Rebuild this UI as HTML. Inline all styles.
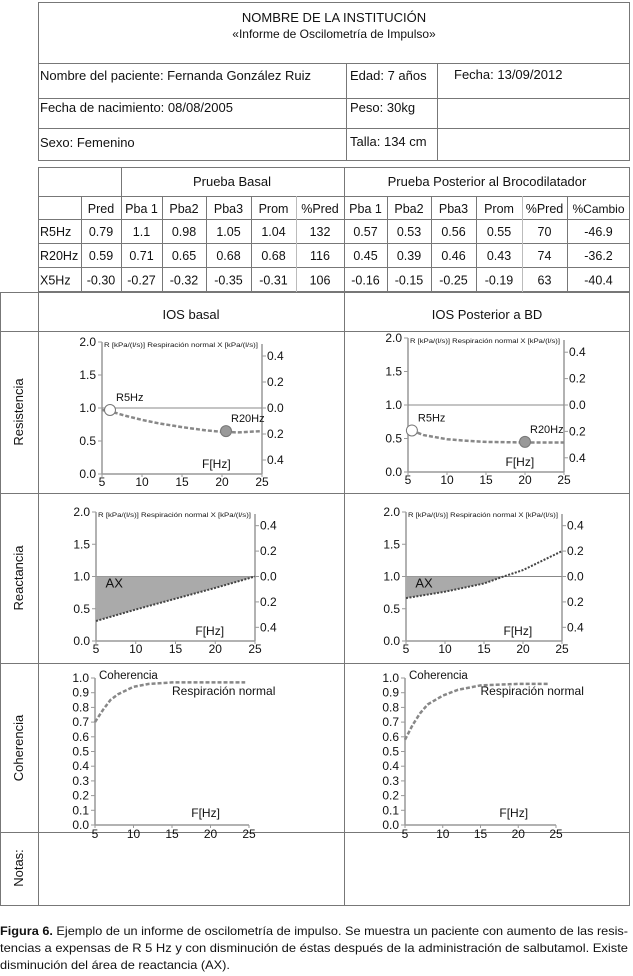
<!DOCTYPE html>
<html><head><meta charset="utf-8">
<style>
html,body{margin:0;padding:0;background:#fff;}
svg{display:block;font-family:"Liberation Sans",sans-serif;}
</style></head>
<body>
<svg id="page" width="633" height="976" viewBox="0 0 633 976" xmlns="http://www.w3.org/2000/svg">
<g stroke="#777" stroke-width="1" fill="none">
  <rect x="38.5" y="2.5" width="591" height="158"/>
  <line x1="38" y1="63.5" x2="630" y2="63.5"/>
  <line x1="38" y1="98.5" x2="630" y2="98.5"/>
  <line x1="38" y1="128.5" x2="630" y2="128.5"/>
  <line x1="346.5" y1="63" x2="346.5" y2="160"/>
  <line x1="437.5" y1="63" x2="437.5" y2="160"/>
</g>
<g font-size="13" fill="#111">
  <text x="334" y="22" text-anchor="middle">NOMBRE DE LA INSTITUCIÓN</text>
  <text x="334" y="38" text-anchor="middle" font-size="12">«Informe de Oscilometría de Impulso»</text>
  <text x="40" y="80">Nombre del paciente: Fernanda González Ruiz</text>
  <text x="350" y="80">Edad: 7 años</text>
  <text x="454" y="79">Fecha: 13/09/2012</text>
  <text x="40" y="112">Fecha de nacimiento: 08/08/2005</text>
  <text x="350" y="112">Peso: 30kg</text>
  <text x="40" y="147">Sexo: Femenino</text>
  <text x="350" y="146">Talla: 134 cm</text>
</g>
<g id="dtable"></g>
<g stroke="#777" stroke-width="1" fill="none">
  <line x1="0" y1="292.5" x2="630" y2="292.5"/>
  <line x1="0" y1="331.5" x2="630" y2="331.5"/>
  <line x1="0" y1="493.5" x2="630" y2="493.5"/>
  <line x1="0" y1="663.5" x2="630" y2="663.5"/>
  <line x1="0" y1="832.5" x2="630" y2="832.5"/>
  <line x1="0" y1="905.5" x2="630" y2="905.5"/>
  <line x1="0.5" y1="292" x2="0.5" y2="905"/>
  <line x1="38.5" y1="292" x2="38.5" y2="905"/>
  <line x1="344.5" y1="292" x2="344.5" y2="905"/>
  <line x1="629.5" y1="292" x2="629.5" y2="905"/>
</g>
<g font-size="13" fill="#111">
  <text x="191" y="319" text-anchor="middle">IOS basal</text>
  <text x="487" y="319" text-anchor="middle">IOS Posterior a BD</text>
  <text transform="translate(23,412) rotate(-90)" text-anchor="middle">Resistencia</text>
  <text transform="translate(23,578) rotate(-90)" text-anchor="middle">Reactancia</text>
  <text transform="translate(23,748) rotate(-90)" text-anchor="middle">Coherencia</text>
  <text transform="translate(23,868) rotate(-90)" text-anchor="middle">Notas:</text>
</g>
<g id="charts"></g>
<g font-size="12" fill="#111">
  <text x="0" y="935" textLength="628" lengthAdjust="spacingAndGlyphs"><tspan font-weight="bold">Figura 6.</tspan> Ejemplo de un informe de oscilometría de impulso. Se muestra un paciente con aumento de las resis-</text>
  <text x="0" y="952" textLength="628" lengthAdjust="spacingAndGlyphs">tencias a expensas de R 5 Hz y con disminución de éstas después de la administración de salbutamol. Existe</text>
  <text x="0" y="969" textLength="230" lengthAdjust="spacingAndGlyphs">disminución del área de reactancia (AX).</text>
</g>
</svg>
<script>
// ---- table data ----
const rowLabels = ["R5Hz","R20Hz","X5Hz"];
const colHeaders = ["","Pred","Pba 1","Pba2","Pba3","Prom","%Pred","Pba 1","Pba2","Pba3","Prom","%Pred","%Cambio"];
const tableValues = [
 ["0.79","1.1","0.98","1.05","1.04","132","0.57","0.53","0.56","0.55","70","-46.9"],
 ["0.59","0.71","0.65","0.68","0.68","116","0.45","0.39","0.46","0.43","74","-36.2"],
 ["-0.30","-0.27","-0.32","-0.35","-0.31","106","-0.16","-0.15","-0.25","-0.19","63","-40.4"]
];
// ---- chart data ----
const resBasalFreq = [5,6,8,10,12,15,18,20,22,25];
const resBasalR = [0.97,0.95,0.88,0.82,0.77,0.71,0.66,0.64,0.63,0.65];
const resBasalMarkers = [[6,0.97],[20.5,0.65]];
const resPostFreq = [5.5,7,10,12,15,20,25];
const resPostR = [0.62,0.55,0.49,0.47,0.45,0.44,0.44];
const resPostMarkers = [[5.5,0.62],[20,0.45]];
const reacBasalFreq = [5,10,15,20,25];
const reacBasalX = [-0.35,-0.26,-0.175,-0.09,0.0];
const reacPostFreq = [5,10,15,17.5,20,25];
const reacPostX = [-0.17,-0.12,-0.055,0,0.05,0.2];
const cohBasalFreq = [5,6,7,8,10,12,15,20,24.5];
const cohBasalC = [0.70,0.78,0.85,0.89,0.94,0.96,0.97,0.97,0.97];
const cohPostFreq = [5,6,7,8,10,12,15,20,24];
const cohPostC = [0.58,0.68,0.76,0.82,0.88,0.92,0.95,0.96,0.96];
const xTicks = [5,10,15,20,25];
const rTicks = [0,0.5,1.0,1.5,2.0];
const xTicksRight = [0.4,0.2,0.0,-0.2,-0.4];
const cTicks = [0,0.1,0.2,0.3,0.4,0.5,0.6,0.7,0.8,0.9,1.0];

const NS = "http://www.w3.org/2000/svg";
function mk(tag, attrs, parent, txt){
  const e = document.createElementNS(NS, tag);
  for (const k in attrs) e.setAttribute(k, attrs[k]);
  if (txt !== undefined) e.textContent = txt;
  parent.appendChild(e); return e;
}
// ---- table ----
const tg = document.getElementById('dtable');
const colX = [38,81,121,162,206,251,296,344,387,431,476,522,567,630];
const rowY = [167,196,219,243,267,292];
mk('rect',{x:38.5,y:167.5,width:591,height:124,fill:'none',stroke:'#777'},tg);
for (let i=1;i<rowY.length-1;i++){
  const ln = mk('line',{x1:38,y1:rowY[i]+0.5,x2:630,y2:rowY[i]+0.5,stroke:'#777'},tg);
  
  
}
for (let i=1;i<colX.length-1;i++){
  const y1 = (colX[i]===121||colX[i]===344)?167:196;
  const ln = mk('line',{x1:colX[i]+0.5,y1:y1,x2:colX[i]+0.5,y2:292,stroke:(i===6||i===11)?'#bbb':'#777'},tg);
  
  
}
let t = mk('text',{x:232,y:186,'text-anchor':'middle','font-size':13,fill:'#111'},tg,'Prueba Basal');


t = mk('text',{x:487,y:186,'text-anchor':'middle','font-size':13,fill:'#111'},tg,'Prueba Posterior al Brocodilatador');


for (let c=1;c<colHeaders.length;c++){
  const el = mk('text',{x:(colX[c]+colX[c+1])/2,y:213,'text-anchor':'middle','font-size':c===12?12:12.5,fill:'#111'},tg,colHeaders[c]);
  
  
}
for (let r=0;r<rowLabels.length;r++){
  const y = (rowY[r+2]+rowY[r+3])/2+5;
  const lb = mk('text',{x:40,y:y,'font-size':12.5,fill:'#111'},tg,rowLabels[r]);
  
  
  for (let c=0;c<tableValues[r].length;c++){
    const el = mk('text',{x:(colX[c+1]+colX[c+2])/2,y:y,'text-anchor':'middle','font-size':12.5,fill:'#111'},tg,tableValues[r][c]);
    
    
  }
}
// ---- charts ----
const cg = document.getElementById('charts');
function axes(cfg){
  const g = mk('g',{},cg);
  
  
  const sx = f => cfg.x0 + (f-5)/20*(cfg.x1-cfg.x0);
  const sy = v => cfg.yb - v/cfg.vmax*(cfg.yb-cfg.yt);
  mk('line',{x1:cfg.x0,y1:cfg.yt,x2:cfg.x0,y2:cfg.yb,stroke:'#999','stroke-width':1.5},g);
  mk('line',{x1:cfg.x0,y1:cfg.yb,x2:cfg.x1,y2:cfg.yb,stroke:'#999','stroke-width':1.5},g);
  for (const f of xTicks){
    mk('line',{x1:sx(f),y1:cfg.yb,x2:sx(f),y2:cfg.yb+3,stroke:'#999'},g);
    const tl = mk('text',{x:sx(f),y:cfg.yb+(cfg.coh?13:12),'text-anchor':'middle','font-size':12,fill:'#111'},g,String(f));
    
    
  }
  const ticks = cfg.coh ? cTicks : rTicks;
  for (const v of ticks){
    mk('line',{x1:cfg.x0-4,y1:sy(v),x2:cfg.x0,y2:sy(v),stroke:'#999'},g);
    const tl = mk('text',{x:cfg.x0-6,y:sy(v)+4,'text-anchor':'end','font-size':12,fill:'#111'},g,v.toFixed(1));
    
    
  }
  const fl = mk('text',{x:sx(17.5),y:cfg.yb-(cfg.coh?8:6),'font-size':12,fill:'#111'},g,'F[Hz]');
  
  
  if (!cfg.coh){
    const xs = x => sy(1 + x*1.97);
    mk('line',{x1:cfg.x1,y1:cfg.yt+2,x2:cfg.x1,y2:cfg.yb,stroke:'#999','stroke-width':1.5},g);
    for (const v of xTicksRight){
      mk('line',{x1:cfg.x1,y1:xs(v),x2:cfg.x1+4,y2:xs(v),stroke:'#999'},g);
      const tl = mk('text',{x:cfg.x1+5,y:xs(v)+4,'font-size':12,fill:'#111'},g,Math.abs(v).toFixed(1));
      
      
    }
    mk('line',{x1:cfg.x0,y1:sy(1),x2:cfg.x1,y2:sy(1),stroke:'#888'},g);
    const hd = mk('text',{x:cfg.x0+2,y:cfg.yt+5,'font-size':6.5,fill:'#111',textLength:(cfg.x1-cfg.x0-6),lengthAdjust:'spacingAndGlyphs'},g,'R [kPa/(l/s)]      Respiración normal   X [kPa/(l/s)]');
    
    
  }
  return {g,sx,sy,xs:x=>sy(1+x*1.97)};
}
function pathD(fs, ys, sx, sy){ return fs.map((f,i)=>(i?'L':'M')+sx(f).toFixed(1)+' '+sy(ys[i]).toFixed(1)).join(' '); }

function resChart(cfg, fr, vals, markers){
  const a = axes(cfg);
  const p = mk('path',{d:pathD(fr,vals,a.sx,a.sy),fill:'none',stroke:'#888','stroke-width':2.5,'stroke-dasharray':'4 2'},a.g);
  
  
  const m1 = mk('circle',{cx:a.sx(markers[0][0]),cy:a.sy(markers[0][1]),r:5.5,fill:'#fff',stroke:'#777'},a.g);
  
  
  const m2 = mk('circle',{cx:a.sx(markers[1][0]),cy:a.sy(markers[1][1]),r:5.5,fill:'#999',stroke:'#777'},a.g);
  
  
  const l1 = mk('text',{x:a.sx(markers[0][0])+6,y:a.sy(markers[0][1])-9,'font-size':11,fill:'#111'},a.g,'R5Hz');
  
  
  const l2 = mk('text',{x:a.sx(markers[1][0])+5,y:a.sy(markers[1][1])-9,'font-size':11,fill:'#111'},a.g,'R20Hz');
  
  
}
function reacChart(cfg, fr, xv){
  const a = axes(cfg);
  let pts = [];
  for (let i=0;i<fr.length;i++){ if (xv[i] <= 0) pts.push([a.sx(fr[i]),a.xs(xv[i])]); }
  const zeroY = a.xs(0);
  const d = 'M'+pts[0][0]+' '+zeroY+' '+pts.map(p=>'L'+p[0].toFixed(1)+' '+p[1].toFixed(1)).join(' ')+' L'+pts[pts.length-1][0]+' '+zeroY+' Z';
  const ar = mk('path',{d:d,fill:'#aaa',stroke:'none'},a.g);
  
  
  const p = mk('path',{d:fr.map((f,i)=>(i?'L':'M')+a.sx(f).toFixed(1)+' '+a.xs(xv[i]).toFixed(1)).join(' '),fill:'none',stroke:'#444','stroke-width':2,'stroke-dasharray':'2 1.5'},a.g);
  
  
  const t = mk('text',{x:a.sx(6.2),y:a.sy(0.83),'font-size':13,fill:'#111'},a.g,'AX');
  
  
}
function cohChart(cfg, fr, cv){
  const a = axes(cfg);
  const p = mk('path',{d:pathD(fr,cv,a.sx,a.sy),fill:'none',stroke:'#888','stroke-width':2.5,'stroke-dasharray':'4 2'},a.g);
  
  
  const t1 = mk('text',{x:cfg.x0+4,y:cfg.yt+1,'font-size':11.5,fill:'#111'},a.g,'Coherencia');
  
  
  const t2 = mk('text',{x:a.sx(15),y:cfg.yt+17,'font-size':12,fill:'#111'},a.g,'Respiración normal');
  
  
}
resChart({name:'resistance-basal-chart',x0:102,x1:262,yt:342,yb:474,vmax:2},resBasalFreq,resBasalR,resBasalMarkers);
resChart({name:'resistance-post-chart',x0:408,x1:564,yt:338,yb:472,vmax:2},resPostFreq,resPostR,resPostMarkers);
reacChart({name:'reactance-basal-chart',x0:96,x1:255,yt:512,yb:641,vmax:2},reacBasalFreq,reacBasalX);
reacChart({name:'reactance-post-chart',x0:406,x1:562,yt:512,yb:641,vmax:2},reacPostFreq,reacPostX);
cohChart({name:'coherence-basal-chart',x0:95,x1:249,yt:678,yb:825,vmax:1,coh:true},cohBasalFreq,cohBasalC);
cohChart({name:'coherence-post-chart',x0:405,x1:556,yt:678,yb:825,vmax:1,coh:true},cohPostFreq,cohPostC);
</script>
</body></html>
